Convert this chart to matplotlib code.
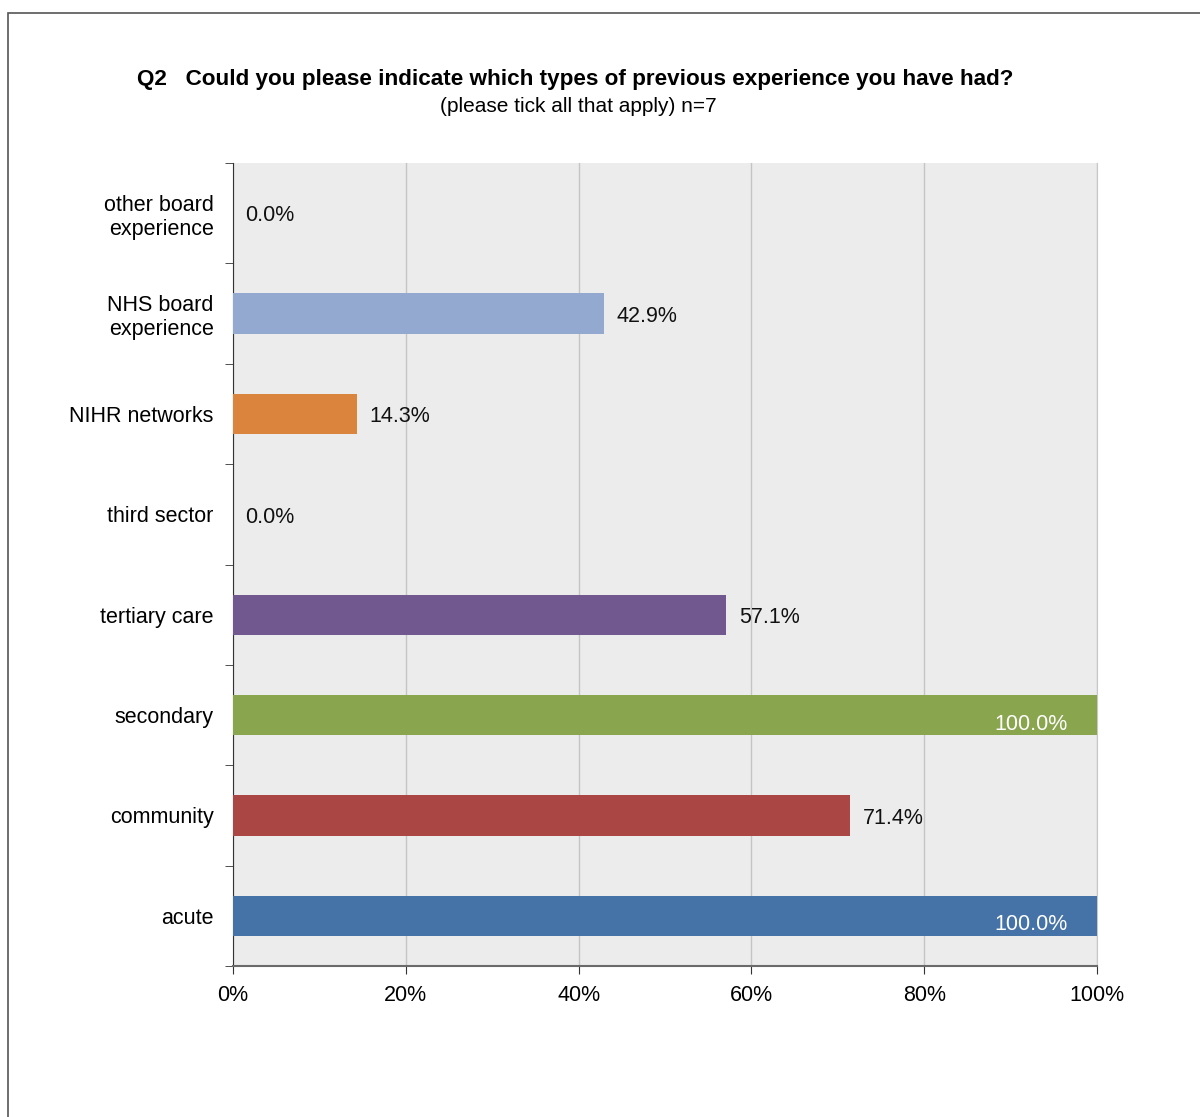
import numpy as np
import matplotlib.pyplot as plt
from matplotlib.patches import Rectangle

categories = ['acute', 'community', 'secondary', 'tertiary care', 'third sector',
              'NIHR networks', 'NHS board\nexperience', 'other board\nexperience']
values = [100.0, 71.4, 100.0, 57.1, 0.0, 14.3, 42.9, 0.0]
colors = ['#4572A7', '#AA4643', '#89A54E', '#71588F', '#4198AF',
          '#DB843D', '#93A9CF', '#B9CD96']
xticks = [0, 20, 40, 60, 80, 100]

plt.rcParams['font.family'] = ['Liberation Sans', 'DejaVu Sans']

fig = plt.figure(figsize=(12, 11.17), dpi=100)
ax = fig.add_axes([233/1200, 1 - 966/1117, 864/1200, 803/1117])

# outer frame of the original chart box
fig.patches.append(Rectangle((8/1200, -0.1), 1.2, 1 - 13/1117 + 0.1,
                             transform=fig.transFigure, fill=False,
                             edgecolor='#555555', linewidth=1.2))

y = np.arange(len(categories))
ax.set_facecolor('#ECECEC')
ax.barh(y, values, height=0.4, color=colors, zorder=3)

for yi, v in zip(y, values):
    if v >= 100:
        ax.annotate(f'{v:.1f}%', (v, yi), xytext=(-21, -6.5), textcoords='offset points',
                    ha='right', va='center', color='white', fontsize=15.5, zorder=4)
    else:
        ax.annotate(f'{v:.1f}%', (v, yi), xytext=(9, -2), textcoords='offset points',
                    ha='left', va='center', color='#111111', fontsize=15.5, zorder=4)

ax.set_xlim(0, 100)
ax.set_ylim(-0.5, len(categories) - 0.5)
ax.set_xticks(xticks)
ax.set_xticklabels([f'{t}%' for t in xticks], fontsize=15.5)
ax.set_yticks(y)
ax.set_yticklabels(categories, fontsize=15.5, linespacing=1.2)
ax.set_yticks(np.arange(-0.5, len(categories), 1), minor=True)
ax.tick_params(axis='y', which='major', length=0, pad=14)
ax.tick_params(axis='y', which='minor', length=6, direction='out', color='#333333')
ax.tick_params(axis='x', length=6, direction='out', color='#333333', pad=8)
for lbl in ax.get_yticklabels():
    lbl.set_ha('right')

ax.grid(axis='x', color='#C4C4C4', linewidth=1, zorder=0)
ax.set_axisbelow(True)
ax.spines['top'].set_visible(False)
ax.spines['right'].set_color('#C8C8C8')
ax.spines['left'].set_color('#333333')
ax.spines['bottom'].set_color('#6A6A6A')
ax.spines['bottom'].set_linewidth(1.5)

fig.text(575/1200, 1 - 80/1117, 'Q2   Could you please indicate which types of previous experience you have had?',
         ha='center', va='center', fontsize=16.2, fontweight='bold')
fig.text(578/1200, 1 - 107/1117, '(please tick all that apply) n=7',
         ha='center', va='center', fontsize=15)

fig.savefig('out.png', dpi=100)
